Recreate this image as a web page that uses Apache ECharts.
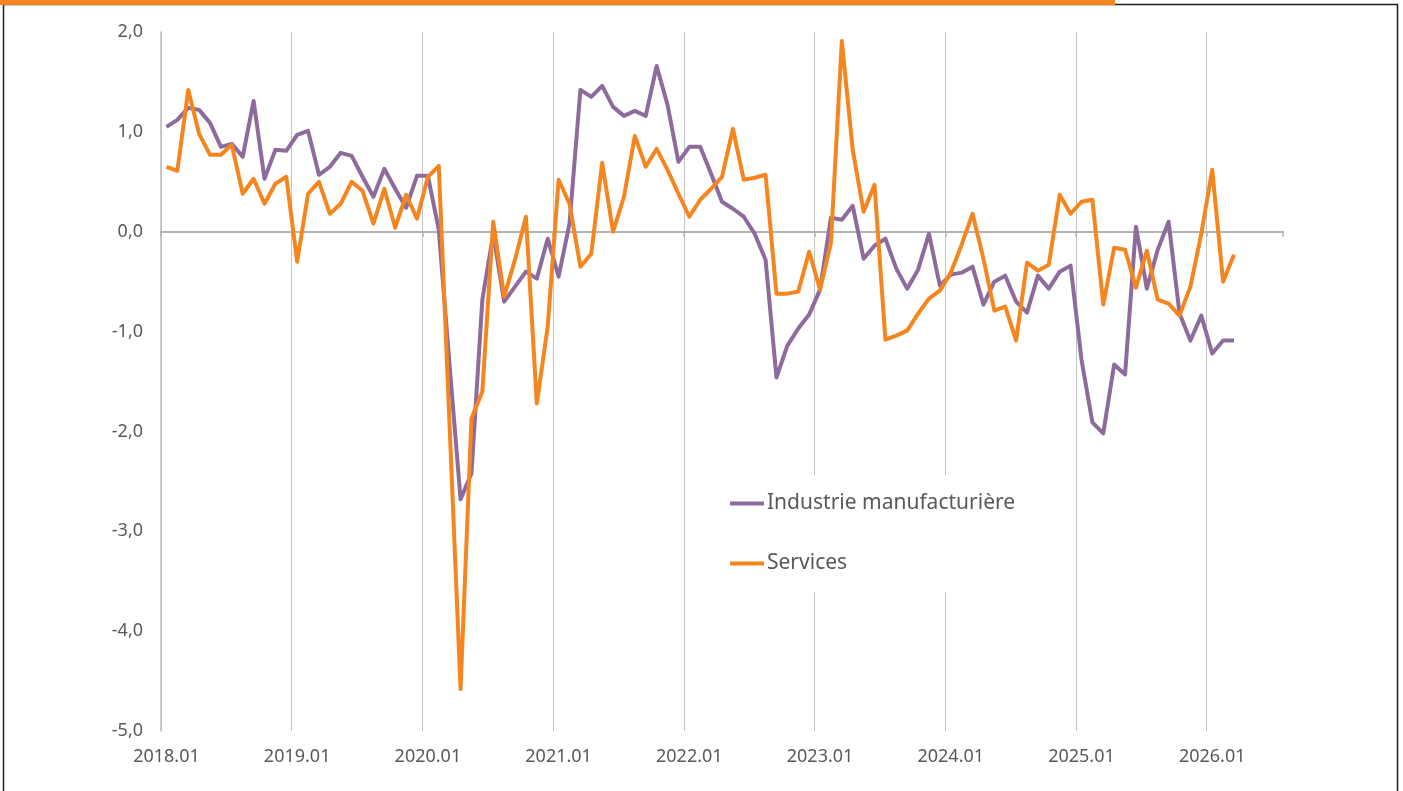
<!DOCTYPE html>
<html>
<head>
    <meta charset="utf-8">
    <title>Industrie manufacturière / Services</title>
    <script src="https://cdn.jsdelivr.net/npm/echarts@6/dist/echarts.min.js"></script>
    <style>
        html, body {
            margin: 0;
            padding: 0;
            background: #fff;
        }
        #chart {
            width: 1403px;
            height: 791px;
        }
    </style>
</head>
<body>
<div id="chart"></div>
<script>
    // mois 2018.01 -> 2026.07 (axe), données jusqu'à 2026.03
    var months = [];
    for (var y = 2018; y <= 2026; y++) {
        for (var m = 1; m <= 12; m++) {
            if (y === 2026 && m > 7) break;
            months.push(y + '.' + (m < 10 ? '0' + m : m));
        }
    }

    var industrie = [
        1.05, 1.12, 1.24, 1.22, 1.09, 0.85, 0.88, 0.75, 1.31, 0.53, 0.82, 0.81,
        0.97, 1.01, 0.57, 0.65, 0.79, 0.76, 0.55, 0.35, 0.63, 0.43, 0.24, 0.56,
        0.56, 0.02, -1.35, -2.68, -2.42, -0.68, -0.02, -0.70, -0.55, -0.40, -0.47, -0.07,
        -0.45, 0.08, 1.42, 1.35, 1.46, 1.25, 1.16, 1.21, 1.16, 1.66, 1.27, 0.70,
        0.85, 0.85, 0.58, 0.30, 0.23, 0.15, -0.02, -0.28, -1.46, -1.14, -0.97, -0.83,
        -0.58, 0.14, 0.12, 0.26, -0.27, -0.14, -0.07, -0.37, -0.57, -0.38, -0.02, -0.54,
        -0.43, -0.41, -0.35, -0.73, -0.50, -0.44, -0.70, -0.81, -0.44, -0.57, -0.40, -0.34,
        -1.28, -1.91, -2.02, -1.33, -1.43, 0.05, -0.57, -0.18, 0.10, -0.82, -1.09, -0.84,
        -1.22, -1.09, -1.09
    ];

    var services = [
        0.65, 0.61, 1.42, 0.98, 0.77, 0.77, 0.87, 0.38, 0.53, 0.28, 0.48, 0.55,
        -0.30, 0.38, 0.50, 0.18, 0.28, 0.50, 0.41, 0.08, 0.43, 0.04, 0.37, 0.13,
        0.55, 0.66, -1.96, -4.58, -1.87, -1.60, 0.10, -0.65, -0.28, 0.15, -1.72, -0.95,
        0.52, 0.28, -0.35, -0.22, 0.69, 0.00, 0.35, 0.96, 0.65, 0.83, 0.62, 0.38,
        0.15, 0.32, 0.43, 0.55, 1.03, 0.52, 0.54, 0.57, -0.62, -0.62, -0.60, -0.20,
        -0.58, -0.11, 1.91, 0.82, 0.20, 0.47, -1.08, -1.04, -0.99, -0.82, -0.67, -0.59,
        -0.41, -0.13, 0.18, -0.27, -0.79, -0.75, -1.09, -0.31, -0.39, -0.33, 0.37, 0.18,
        0.30, 0.32, -0.73, -0.16, -0.18, -0.56, -0.19, -0.68, -0.72, -0.84, -0.55, -0.02,
        0.62, -0.50, -0.23
    ];

    var yTicks = { min: -5, max: 2, step: 1 };

    var chart = echarts.init(document.getElementById('chart'), null, { renderer: 'canvas' });

    var option = {
        animation: false,
        backgroundColor: '#fff',
        textStyle: {
            fontFamily: 'Noto Sans'
        },
        graphic: [
            {
                type: 'rect',
                shape: { x: 3.5, y: 4.5, width: 1394, height: 800 },
                style: { fill: 'none', stroke: '#1f1f1f', lineWidth: 1.5 },
                silent: true
            },
            {
                type: 'rect',
                shape: { x: 0, y: 0, width: 1115, height: 5 },
                style: { fill: '#f5861f' },
                silent: true
            }
        ],
        grid: {
            left: 161,
            right: 120,
            top: 32,
            bottom: 60
        },
        legend: {
            data: ['Industrie manufacturière', 'Services'],
            orient: 'vertical',
            left: 721,
            top: 475,
            icon: 'rect',
            itemWidth: 34,
            itemHeight: 4,
            itemGap: 39,
            padding: [18, 10, 18, 9],
            backgroundColor: '#fff',
            textStyle: {
                fontSize: 21,
                color: '#595959',
                fontFamily: 'Noto Sans',
                padding: [0, 0, 0, -2]
            }
        },
        xAxis: [
            {
                type: 'category',
                data: months,
                boundaryGap: true,
                position: 'bottom',
                axisLine: { show: false, onZero: false },
                axisTick: { show: false },
                axisLabel: {
                    interval: 11,
                    margin: 17,
                    fontSize: 18,
                    color: '#595959'
                },
                splitLine: {
                    show: true,
                    interval: 11,
                    showMaxLine: false,
                    lineStyle: { color: '#c4c4c4', width: 1 }
                }
            },
            {
                type: 'category',
                data: months,
                boundaryGap: true,
                position: 'bottom',
                axisLine: {
                    show: true,
                    onZero: true,
                    lineStyle: { color: '#b3b3b3', width: 2 }
                },
                axisTick: {
                    show: true,
                    interval: 11,
                    length: 5,
                    lineStyle: { color: '#b3b3b3', width: 1.5 }
                },
                axisLabel: { show: false },
                splitLine: { show: false }
            }
        ],
        yAxis: {
            type: 'value',
            min: yTicks.min,
            max: yTicks.max,
            interval: yTicks.step,
            axisLine: {
                show: true,
                onZero: false,
                lineStyle: { color: '#bdbdbd', width: 1.5 }
            },
            axisTick: { show: false },
            splitLine: { show: false },
            axisLabel: {
                margin: 18,
                fontSize: 18,
                color: '#595959',
                formatter: function (v) {
                    return v.toFixed(1).replace('.', ',');
                }
            }
        },
        series: [
            {
                name: 'Industrie manufacturière',
                type: 'line',
                xAxisIndex: 0,
                data: industrie,
                symbol: 'none',
                color: '#8d6b9d',
                lineStyle: { width: 4, color: '#8d6b9d', join: 'round' },
                z: 3
            },
            {
                name: 'Services',
                type: 'line',
                xAxisIndex: 0,
                data: services,
                symbol: 'none',
                color: '#f5861f',
                lineStyle: { width: 4, color: '#f5861f', join: 'round' },
                z: 4
            }
        ]
    };

    chart.setOption(option);
</script>
</body>
</html>
